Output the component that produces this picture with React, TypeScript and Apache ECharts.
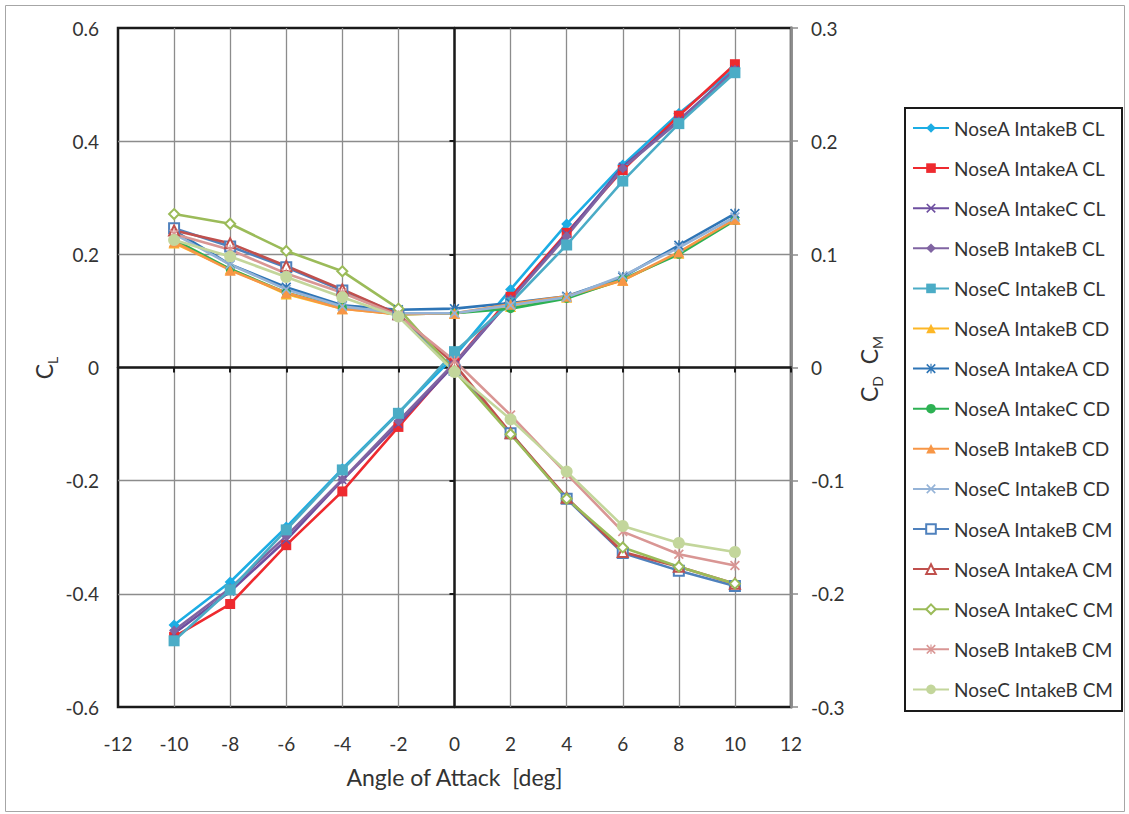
import React, { useEffect, useRef } from "react";
import * as echarts from "echarts";

const FONT = "Lato";
const TXT = "#333333";

const angles = [-10, -8, -6, -4, -2, 0, 2, 4, 6, 8, 10];
const xTicks = [-12, 12, 2];

// CL (left axis)
const naibCL = [-0.455, -0.379, -0.282, -0.179, -0.080, 0.020, 0.138, 0.2535, 0.358, 0.449, 0.529];
const naiaCL = [-0.476, -0.418, -0.314, -0.219, -0.105, 0.008, 0.125, 0.238, 0.349, 0.445, 0.536];
const naicCL = [-0.470, -0.396, -0.305, -0.199, -0.100, 0.005, 0.120, 0.236, 0.355, 0.437, 0.526];
const nbibCL = [-0.465, -0.390, -0.298, -0.198, -0.095, 0.008, 0.120, 0.232, 0.352, 0.435, 0.526];
const ncibCL = [-0.483, -0.393, -0.287, -0.181, -0.081, 0.028, 0.114, 0.2165, 0.3295, 0.431, 0.521];
// CD (right axis)
const naibCD = [0.110, 0.087, 0.065, 0.052, 0.047, 0.048, 0.054, 0.062, 0.077, 0.101, 0.131];
const naiaCD = [0.121, 0.091, 0.071, 0.055, 0.051, 0.052, 0.057, 0.063, 0.080, 0.108, 0.136];
const naicCD = [0.113, 0.087, 0.066, 0.053, 0.047, 0.048, 0.052, 0.061, 0.078, 0.100, 0.130];
const nbibCD = [0.111, 0.086, 0.066, 0.052, 0.047, 0.048, 0.056, 0.063, 0.077, 0.102, 0.131];
const ncibCD = [0.118, 0.091, 0.069, 0.054, 0.048, 0.048, 0.055, 0.062, 0.081, 0.106, 0.133];
// CM (right axis)
const naibCM = [0.123, 0.107, 0.0885, 0.068, 0.047, -0.002, -0.058, -0.116, -0.164, -0.1795, -0.193];
const naiaCM = [0.121, 0.1097, 0.0897, 0.069, 0.047, 0.003, -0.058, -0.115, -0.163, -0.176, -0.191];
const naicCM = [0.1356, 0.127, 0.103, 0.085, 0.052, -0.003, -0.059, -0.116, -0.159, -0.176, -0.191];
const nbibCM = [0.118, 0.104, 0.083, 0.066, 0.046, 0.006, -0.042, -0.094, -0.145, -0.165, -0.175];
const ncibCM = [0.1126, 0.098, 0.080, 0.062, 0.045, -0.004, -0.0458, -0.092, -0.140, -0.155, -0.163];

const leftTicks = [-0.6, 0.6, 0.2];
const rightTicks = [-0.3, 0.3, 0.1];

const X_SYM = "path://M0,1.2L1.2,0L5,3.8L8.8,0L10,1.2L6.2,5L10,8.8L8.8,10L5,6.2L1.2,10L0,8.8L3.8,5Z";
const STAR_SYM =
  "path://M0,1.2L1.2,0L5,3.8L8.8,0L10,1.2L6.2,5L10,8.8L8.8,10L5,6.2L1.2,10L0,8.8L3.8,5Z M4.4,0L5.6,0L5.6,10L4.4,10Z";

type S = { name: string; data: number[]; axis: number; color: string; symbol: string; size: number; width?: number };

const seriesDefs: S[] = [
  { name: "NoseA IntakeB CL", data: naibCL, axis: 0, color: "#1CADE4", symbol: "diamond", size: 11 },
  { name: "NoseA IntakeA CL", data: naiaCL, axis: 0, color: "#EE2A2F", symbol: "rect", size: 10 },
  { name: "NoseA IntakeC CL", data: naicCL, axis: 0, color: "#6E4FA0", symbol: X_SYM, size: 9 },
  { name: "NoseB IntakeB CL", data: nbibCL, axis: 0, color: "#8064A2", symbol: "diamond", size: 10 },
  { name: "NoseC IntakeB CL", data: ncibCL, axis: 0, color: "#4BACC6", symbol: "rect", size: 11 },
  { name: "NoseA IntakeB CD", data: naibCD, axis: 1, color: "#FDB726", symbol: "triangle", size: 11 },
  { name: "NoseA IntakeA CD", data: naiaCD, axis: 1, color: "#2E75B6", symbol: STAR_SYM, size: 10 },
  { name: "NoseA IntakeC CD", data: naicCD, axis: 1, color: "#2DB153", symbol: "circle", size: 9 },
  { name: "NoseB IntakeB CD", data: nbibCD, axis: 1, color: "#F79646", symbol: "triangle", size: 11 },
  { name: "NoseC IntakeB CD", data: ncibCD, axis: 1, color: "#95B3D7", symbol: X_SYM, size: 10 },
  { name: "NoseA IntakeB CM", data: naibCM, axis: 1, color: "#4F81BD", symbol: "emptyRect", size: 10 },
  { name: "NoseA IntakeA CM", data: naiaCM, axis: 1, color: "#C0504D", symbol: "emptyTriangle", size: 10 },
  { name: "NoseA IntakeC CM", data: naicCM, axis: 1, color: "#9BBB59", symbol: "emptyDiamond", size: 10 },
  { name: "NoseB IntakeB CM", data: nbibCM, axis: 1, color: "#D99694", symbol: STAR_SYM, size: 10 },
  { name: "NoseC IntakeB CM", data: ncibCM, axis: 1, color: "#C3D69B", symbol: "circle", size: 12 },
];

const fmt = (v: number) => {
  const r = Math.round(v * 10) / 10;
  return r === 0 ? "0" : String(r);
};

export default function App() {
  const ref = useRef<HTMLDivElement>(null);
  useEffect(() => {
    if (!ref.current) return;
    const chart = echarts.init(ref.current, null, { renderer: "svg" });
    const labelStyle = { fontFamily: FONT, fontSize: 19, color: TXT };
    const rich = {
      c: { fontFamily: FONT, fontSize: 23, fill: TXT, lineHeight: 30 },
      s: { fontFamily: FONT, fontSize: 14, fill: TXT, lineHeight: 30, verticalAlign: "bottom" },
    };
    const option: any = {
      animation: false,
      backgroundColor: "#ffffff",
      grid: {
        left: 118,
        top: 28,
        right: 338,
        bottom: 107,
        show: true,
        borderColor: "#1a1a1a",
        borderWidth: 2.5,
        backgroundColor: "transparent",
        containLabel: false,
      },
      xAxis: [
        {
          type: "value",
          min: xTicks[0],
          max: xTicks[1],
          interval: xTicks[2],
          position: "bottom",
          axisLine: { show: false, onZero: false },
          axisTick: { show: false },
          axisLabel: { ...labelStyle, margin: 27, formatter: (v: number) => String(v) },
          splitLine: { show: true, showMinLine: false, showMaxLine: false, lineStyle: { color: "#8C8C8C", width: 1.3 } },
          name: "Angle of Attack  [deg]",
          nameLocation: "middle",
          nameGap: 58,
          nameTextStyle: { fontFamily: FONT, fontSize: 23, color: TXT },
        },
        {
          type: "value",
          min: xTicks[0],
          max: xTicks[1],
          interval: xTicks[2],
          position: "bottom",
          axisLine: { show: true, onZero: true, onZeroAxisIndex: 0, lineStyle: { color: "#1a1a1a", width: 2.5 } },
          axisTick: { show: true, length: 5, lineStyle: { color: "#1a1a1a", width: 2 } },
          axisLabel: { show: false },
          splitLine: { show: false },
        },
      ],
      yAxis: [
        {
          type: "value",
          position: "left",
          min: leftTicks[0],
          max: leftTicks[1],
          interval: leftTicks[2],
          axisLine: { show: false, onZero: false },
          axisTick: { show: false },
          axisLabel: { ...labelStyle, margin: 19, formatter: fmt },
          splitLine: { show: true, showMinLine: false, showMaxLine: false, lineStyle: { color: "#8C8C8C", width: 1.3 } },
        },
        {
          type: "value",
          position: "right",
          min: rightTicks[0],
          max: rightTicks[1],
          interval: rightTicks[2],
          axisLine: { show: true, onZero: false, lineStyle: { color: "#8C8C8C", width: 2.8 } },
          axisTick: { show: true, length: 7, lineStyle: { color: "#8C8C8C", width: 1.5 } },
          axisLabel: { ...labelStyle, margin: 20, formatter: fmt },
          splitLine: { show: false },
        },
        {
          type: "value",
          position: "left",
          min: leftTicks[0],
          max: leftTicks[1],
          interval: leftTicks[2],
          axisLine: { show: true, onZero: true, onZeroAxisIndex: 0, lineStyle: { color: "#1a1a1a", width: 2.5 } },
          axisTick: { show: true, length: 5, lineStyle: { color: "#1a1a1a", width: 2 } },
          axisLabel: { show: false },
          splitLine: { show: false },
        },
      ],
      legend: {
        orient: "vertical",
        left: 912,
        top: 118,
        padding: 0,
        itemWidth: 36,
        itemHeight: 12,
        itemGap: 20.1,
        textStyle: { fontFamily: FONT, fontSize: 19, color: TXT, lineHeight: 20 },
        data: seriesDefs.map((s) => s.name),
      },
      graphic: [
        {
          type: "rect",
          shape: { x: 5.5, y: 5.5, width: 1119, height: 806 },
          style: { fill: "none", stroke: "#A6A6A6", lineWidth: 1 },
          silent: true,
        },
        {
          type: "rect",
          shape: { x: 905, y: 108, width: 217, height: 603 },
          style: { fill: "none", stroke: "#1a1a1a", lineWidth: 2 },
          silent: true,
        },
        {
          type: "text",
          x: 44,
          y: 368,
          rotation: Math.PI / 2,
          style: { text: "{c|C}{s|L}", align: "center", verticalAlign: "middle", rich },
        },
        {
          type: "text",
          x: 869,
          y: 369,
          rotation: Math.PI / 2,
          style: { text: "{c|C}{s|D}{c|  C}{s|M}", align: "center", verticalAlign: "middle", rich },
        },
      ],
      series: seriesDefs.map((s) => ({
        type: "line",
        name: s.name,
        xAxisIndex: 0,
        yAxisIndex: s.axis,
        data: angles.map((a, i) => [a, s.data[i]]),
        symbol: s.symbol,
        symbolSize: s.size,
        showAllSymbol: true,
        lineStyle: { color: s.color, width: s.width ?? 2.6 },
        itemStyle: { color: s.color, borderColor: s.color, borderWidth: s.symbol.startsWith("empty") ? 1.5 : 0 },
        emphasis: { disabled: true },
      })),
    };
    chart.setOption(option);
    return () => chart.dispose();
  }, []);
  return (
    <div
      ref={ref}
      style={{ position: "fixed", left: 0, top: 0, width: 1129, height: 814, background: "#fff" }}
    />
  );
}
